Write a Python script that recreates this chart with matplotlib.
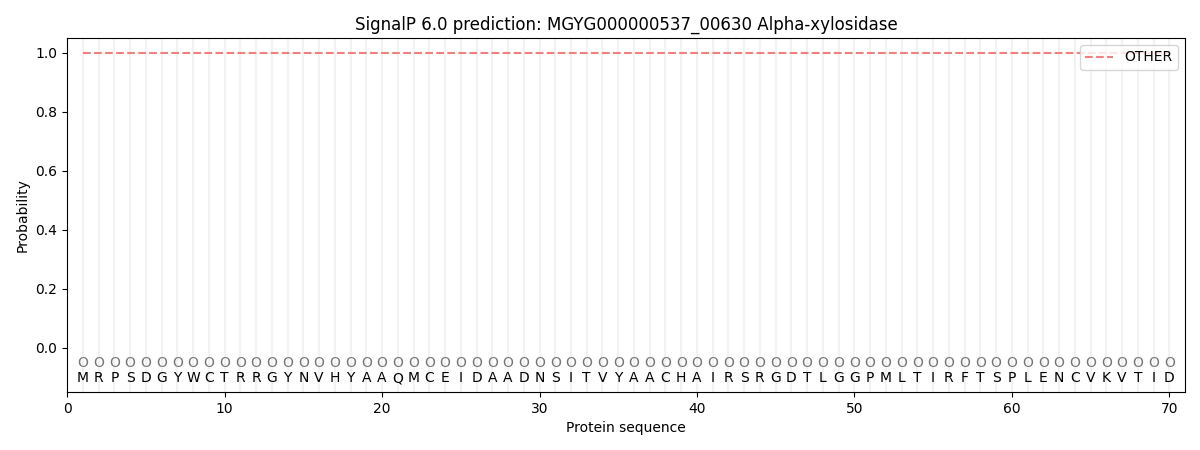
import matplotlib
matplotlib.use('Agg')
import matplotlib.pyplot as plt

# sequence and per-residue prediction
sequence = "MRPSDGYWCTRRGYNVHYAAQMCEIDAADNSITVYAACHAIRSRGDTLGGPMLTIRFTSPLENCVKVTID"
positions = list(range(1, len(sequence) + 1))
labels = ['O'] * len(sequence)
other_prob = [1.0] * len(sequence)

fig, ax = plt.subplots(figsize=(12, 4.5), dpi=100)
fig.subplots_adjust(left=0.056, right=0.9875, top=0.9156, bottom=0.129)

for p in positions:
    ax.axvline(p, color='#f2f2f2', linewidth=1.5, zorder=0)

ax.plot(positions, other_prob, linestyle='--', color='#f08080', linewidth=1.5, label='OTHER')

for p, lab, aa in zip(positions, labels, sequence):
    ax.text(p, -0.064, lab, ha='center', va='baseline', color='#777777', fontsize=10)
    ax.text(p, -0.117, aa, ha='center', va='baseline', color='black', fontsize=10)

ax.set_xlim(0, 71)
ax.set_ylim(-0.15, 1.05)
ax.set_xlabel('Protein sequence')
ax.set_ylabel('Probability')
ax.set_title('SignalP 6.0 prediction: MGYG000000537_00630 Alpha-xylosidase')
ax.legend(loc='upper right')

fig.savefig('out.png')
